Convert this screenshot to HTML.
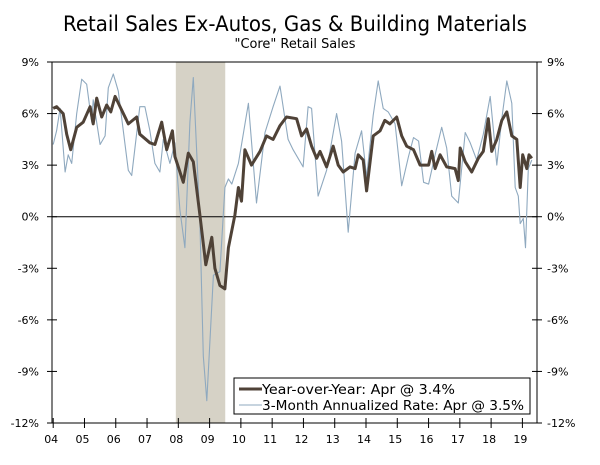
<!DOCTYPE html>
<html><head><meta charset="utf-8"><style>
body{margin:0;background:#fff;}
svg text{font-family:"DejaVu Sans","Liberation Sans",sans-serif;fill:#000;}
</style></head><body>
<svg id="chart" width="600" height="460" xmlns="http://www.w3.org/2000/svg">
<text x="295" y="31" font-size="21" text-anchor="middle" textLength="464" lengthAdjust="spacingAndGlyphs">Retail Sales Ex-Autos, Gas &amp; Building Materials</text>
<text x="295" y="48" font-size="13" text-anchor="middle" textLength="121" lengthAdjust="spacingAndGlyphs">"Core" Retail Sales</text>
<g id="plot"></g>
</svg>
<script>
const yoyDates=[2004.0,2004.11,2004.32,2004.43,2004.56,2004.75,2004.96,2005.18,2005.28,2005.39,2005.55,2005.71,2005.84,2005.98,2006.19,2006.4,2006.67,2006.77,2007.09,2007.25,2007.47,2007.63,2007.81,2007.89,2008.16,2008.32,2008.48,2008.69,2008.88,2009.07,2009.17,2009.33,2009.49,
2009.6,2009.81,2009.92,2010.02,2010.13,2010.34,2010.61,2010.82,2011.03,2011.25,2011.46,2011.78,2011.94,2012.1,2012.26,2012.42,2012.53,2012.74,2012.95,2013.11,2013.27,2013.49,2013.65,2013.75,2013.91,2014.02,2014.23,2014.45,2014.6,2014.76,
2014.98,2015.14,2015.3,2015.52,2015.73,2016.0,2016.1,2016.21,2016.37,2016.58,2016.85,2016.95,2017.01,2017.17,2017.38,2017.59,2017.75,2017.91,2018.02,2018.18,2018.34,2018.5,2018.66,2018.82,2018.93,2019.01,2019.14,2019.21,2019.3];
const yoyValues=[6.3,6.4,6.0,4.8,3.9,5.2,5.5,6.4,5.4,6.9,5.8,6.5,6.1,7.0,6.2,5.4,5.8,4.8,4.3,4.2,5.5,3.9,5.0,3.5,2.0,3.7,3.2,0.1,-2.8,-1.2,-3.0,-4.0,-4.2,
-1.8,0.1,1.7,0.9,3.9,3.0,3.8,4.7,4.5,5.3,5.8,5.7,4.7,5.1,4.1,3.4,3.8,2.9,4.1,3.0,2.6,2.9,2.8,3.6,3.3,1.5,4.7,5.0,5.6,5.4,
5.8,4.7,4.1,3.9,3.0,3.0,3.8,2.8,3.6,2.9,2.8,2.1,4.0,3.2,2.6,3.4,3.8,5.7,3.8,4.5,5.6,6.1,4.7,4.5,1.7,3.6,2.8,3.6,3.4];
const rateDates=[2004.0,2004.11,2004.22,2004.38,2004.48,2004.59,2004.75,2004.91,2005.07,2005.23,2005.28,2005.5,2005.66,2005.76,2005.92,2006.08,2006.4,2006.51,2006.77,2006.93,2007.09,2007.25,2007.41,2007.52,2007.73,2007.89,2008.05,2008.21,2008.37,2008.48,2008.69,2008.8,2008.91,2009.12,2009.33,2009.49,2009.6,2009.71,
2009.92,2010.24,2010.5,2010.77,2011.03,2011.25,2011.51,2011.67,2011.99,2012.15,2012.26,2012.47,2012.74,2013.06,2013.22,2013.43,2013.65,2013.86,2014.02,2014.23,2014.39,2014.55,2014.71,
2014.93,2015.14,2015.36,2015.52,2015.68,2015.84,2016.0,2016.21,2016.42,2016.58,2016.74,2016.95,2017.17,2017.33,2017.54,2017.75,2017.97,2018.18,2018.34,2018.5,2018.66,2018.77,2018.87,2018.93,2019.03,2019.1,2019.19,2019.3];
const rateValues=[4.2,5.0,6.3,2.6,3.6,3.1,6.0,8.0,7.7,5.5,6.8,4.2,4.7,7.5,8.3,7.3,2.7,2.4,6.4,6.4,5.0,3.1,2.6,4.5,3.1,4.3,0.4,-1.8,5.5,8.1,-0.3,-8.1,-10.7,-3.4,-3.2,1.7,2.2,1.9,
3.1,6.6,0.8,4.9,6.4,7.6,4.5,3.9,2.9,6.4,6.3,1.2,2.7,6.0,4.4,-0.9,3.7,5.0,2.3,5.9,7.9,6.3,6.1,
5.4,1.8,3.5,4.6,4.4,2.0,1.9,3.6,5.2,4.0,1.2,0.8,4.9,4.3,3.3,4.8,7.0,3.0,5.7,7.9,6.6,1.7,1.2,-0.4,-0.1,-1.8,2.8,3.3];
const yTicks=[9,6,3,0,-3,-6,-9,-12];
const xTickYears=[2004,2005,2006,2007,2008,2009,2010,2011,2012,2013,2014,2015,2016,2017,2018,2019];
const xTickLabels=["04","05","06","07","08","09","10","11","12","13","14","15","16","17","18","19"];
const recession=[2007.92,2009.5];

const NS="http://www.w3.org/2000/svg";
const L=52,R=537,T=62,B=423;
const x=d=>53.2+(d-2004)*31.28;
const y=v=>T+(9-v)*(B-T)/21;
const g=document.getElementById('plot');
function mk(tag,attrs){const e=document.createElementNS(NS,tag);for(const k in attrs)e.setAttribute(k,attrs[k]);g.appendChild(e);return e;}

let rect=mk('rect',{x:x(recession[0]),y:T,width:x(recession[1])-x(recession[0]),height:B-T,fill:'#d6d2c6'});



let zl=mk('line',{x1:L,x2:R,y1:y(0),y2:y(0),stroke:'#000','stroke-width':1});



function path(dates,vals){return dates.map((d,i)=>(i?'L':'M')+x(d).toFixed(1)+','+y(vals[i]).toFixed(1)).join('');}
let p2=mk('path',{d:path(rateDates,rateValues),fill:'none',stroke:'#8fa9bf','stroke-width':1.1,'stroke-linejoin':'round'});


let p1=mk('path',{d:path(yoyDates,yoyValues),fill:'none',stroke:'#4f4237','stroke-width':3,'stroke-linejoin':'round'});



let fr=mk('path',{d:`M${L},${T}H${R}M${L},${T}V${B}M${R},${T}V${B}M${L},${B}H${R}`,stroke:'#000','stroke-width':1,fill:'none'});



yTicks.forEach(v=>{
  const yy=y(v);
  let t1=mk('line',{x1:L-5,x2:L+5,y1:yy,y2:yy,stroke:'#000'});
  
  
  let t2=mk('line',{x1:R-5,x2:R+5,y1:yy,y2:yy,stroke:'#000'});
  
  
  let a=mk('text',{x:L-13,y:yy+4,'font-size':11,'text-anchor':'end'});a.textContent=v+'%';
  
  
  let b=mk('text',{x:R+10,y:yy+4,'font-size':11,'text-anchor':'start'});b.textContent=v+'%';
  
  
});
xTickYears.forEach((yr,i)=>{
  const xx=x(yr);
  let t=mk('line',{x1:xx,x2:xx,y1:B-5,y2:B+5,stroke:'#000'});
  
  
  let a=mk('text',{x:xx-2,y:443,'font-size':11,'text-anchor':'middle'});a.textContent=xTickLabels[i];
  
  
});

let lg=mk('rect',{x:234,y:378,width:296,height:36,fill:'#fff',stroke:'#000','stroke-width':1});


let l1=mk('line',{x1:239,x2:262,y1:389,y2:389,stroke:'#4f4237','stroke-width':3});


let tx1=mk('text',{x:262,y:394,'font-size':13,textLength:193,lengthAdjust:'spacingAndGlyphs'});tx1.textContent='Year-over-Year: Apr @ 3.4%';


let l2=mk('line',{x1:239,x2:262,y1:405,y2:405,stroke:'#8fa9bf','stroke-width':1.1});


let tx2=mk('text',{x:262,y:410,'font-size':13,textLength:262,lengthAdjust:'spacingAndGlyphs'});tx2.textContent='3-Month Annualized Rate: Apr @ 3.5%';


</script>
</body></html>
